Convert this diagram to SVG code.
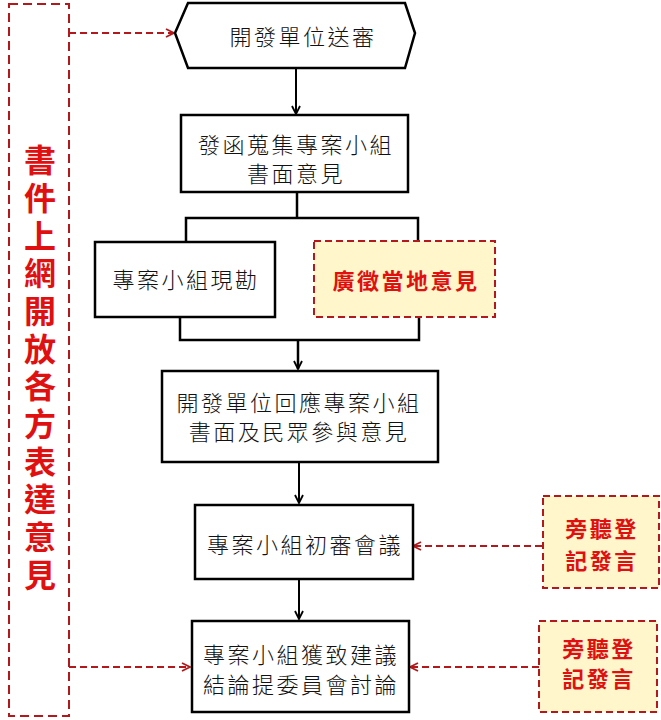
<svg xmlns="http://www.w3.org/2000/svg" width="661" height="720" viewBox="0 0 661 720">
<style>
.box{fill:#fff;stroke:#000;stroke-width:2.5}
.note{fill:#fff6cc;stroke:#b3191c;stroke-width:2;stroke-dasharray:7,4}
.side{fill:#fff;stroke:#b3191c;stroke-width:2;stroke-dasharray:9,5}
.t{font-family:"Noto Sans CJK TC","Noto Sans CJK SC",sans-serif;font-size:22px;font-weight:300;letter-spacing:2.5px;fill:#111;text-anchor:middle;dominant-baseline:central}
.r{font-family:"Noto Sans CJK TC","Noto Sans CJK SC",sans-serif;font-size:22px;font-weight:bold;letter-spacing:2.5px;fill:#e01010;text-anchor:middle;dominant-baseline:central}
.big{font-family:"Noto Sans CJK TC","Noto Sans CJK SC",sans-serif;font-size:32px;font-weight:bold;fill:#e01010;writing-mode:vertical-rl;letter-spacing:5.7px}
.c{fill:none;stroke:#000;stroke-width:2.5}
.ca{fill:none;stroke:#000;stroke-width:2;marker-end:url(#ah)}
.d{fill:none;stroke:#b3191c;stroke-width:2;stroke-dasharray:7,4;marker-end:url(#ahr)}
</style>
<defs>
<marker id="ah" viewBox="0 0 10 10" refX="9" refY="5" markerWidth="10" markerHeight="10" markerUnits="userSpaceOnUse" orient="auto">
<path d="M1,1 L9,5 L1,9" fill="none" stroke="#000" stroke-width="1.8"/>
</marker>
<marker id="ahr" viewBox="0 0 10 10" refX="9" refY="5" markerWidth="10" markerHeight="10" markerUnits="userSpaceOnUse" orient="auto">
<path d="M1,1 L9,5 L1,9" fill="none" stroke="#b3191c" stroke-width="1.8"/>
</marker>
</defs>
<rect width="661" height="720" fill="#fff"/>
<g id="connectors">
<line class="ca" x1="296" y1="68" x2="296" y2="114"/>
<polyline class="c" points="297,192 297,218"/>
<polyline class="c" points="186,242 186,218 418,218 418,241"/>
<polyline class="c" points="180,317 180,340 419,340 419,317"/>
<line class="ca" x1="298" y1="340" x2="298" y2="369" style="stroke-width:2.5"/>
<line class="ca" x1="299" y1="462" x2="299" y2="503"/>
<line class="ca" x1="299" y1="579" x2="299" y2="619"/>
<line class="d" x1="69" y1="33" x2="174" y2="33"/>
<line class="d" x1="69" y1="667" x2="190" y2="667"/>
<line class="d" x1="542" y1="546" x2="413" y2="546"/>
<line class="d" x1="539" y1="667" x2="410" y2="667"/>
</g>
<g id="side">
<rect class="side" x="9" y="4" width="60" height="712"/>
<text class="big" x="40" y="144">書件上網開放各方表達意見</text>
</g>
<g id="n1">
<polygon class="box" points="175,33 188,3 405,3 415,33 405,68 188,68"/>
<text class="t" x="303" y="35">開發單位送審</text>
</g>
<g id="n2">
<rect class="box" x="181" y="115" width="227" height="77"/>
<text class="t" x="296" y="143">發函蒐集專案小組</text>
<text class="t" x="296" y="172">書面意見</text>
</g>
<g id="n3">
<rect class="box" x="95" y="242" width="180" height="75"/>
<text class="t" x="186" y="278">專案小組現勘</text>
</g>
<g id="n4">
<rect class="note" x="314" y="241" width="181" height="76"/>
<text class="r" x="406" y="279">廣徵當地意見</text>
</g>
<g id="n5">
<rect class="box" x="162" y="371" width="276" height="91"/>
<text class="t" x="299" y="401">開發單位回應專案小組</text>
<text class="t" x="299" y="430">書面及民眾參與意見</text>
</g>
<g id="n6">
<rect class="box" x="195" y="505" width="218" height="74"/>
<text class="t" x="305" y="543">專案小組初審會議</text>
</g>
<g id="n7">
<rect class="box" x="192" y="621" width="217" height="91"/>
<text class="t" x="301" y="653">專案小組獲致建議</text>
<text class="t" x="301" y="683">結論提委員會討論</text>
</g>
<g id="n8">
<rect class="note" x="543" y="496" width="116" height="92"/>
<text class="r" x="602" y="527">旁聽登</text>
<text class="r" x="602" y="559">記發言</text>
</g>
<g id="n9">
<rect class="note" x="539" y="621" width="118" height="91"/>
<text class="r" x="599" y="647">旁聽登</text>
<text class="r" x="599" y="677">記發言</text>
</g>
</svg>
